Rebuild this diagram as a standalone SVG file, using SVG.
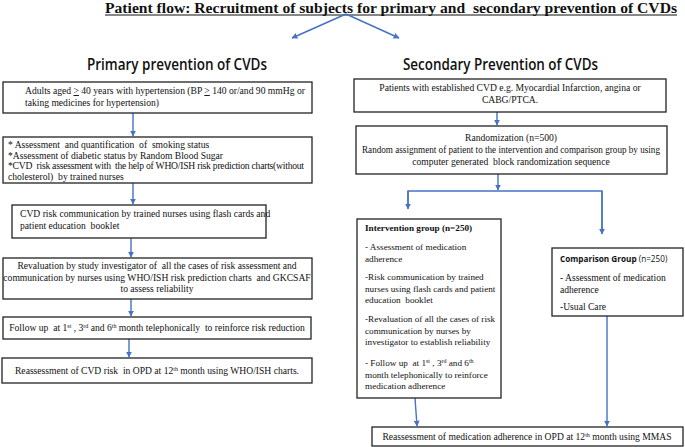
<svg xmlns="http://www.w3.org/2000/svg" width="685" height="447" viewBox="0 0 685 447">
<defs>
<marker id="ah" viewBox="0 0 10 10" refX="9" refY="5" markerWidth="6" markerHeight="6" markerUnits="userSpaceOnUse" orient="auto">
<path d="M0,0 L10,5 L0,10 z" fill="#4472C4"/>
</marker>
<style>
text{white-space:pre}
.box{fill:#fff;stroke:#222;stroke-width:1.3}
.t{font-family:"Liberation Serif","Times New Roman",serif;font-size:9.6px;fill:#111}
.c{text-anchor:middle}
.iv{font-size:9.2px}
.h{font-family:"Open Sans","Noto Sans",sans-serif;font-size:16px;font-weight:600;fill:#111}
.ttl{font-family:"Liberation Serif","Times New Roman",serif;font-size:14.5px;font-weight:bold;fill:#111}
.b{font-weight:bold}
.s{font-family:"Open Sans","Noto Sans",sans-serif;font-size:8.2px}
.conn{fill:none;stroke:#4472C4;stroke-width:1.4}
.arr{marker-end:url(#ah)}
</style>
</defs>
<rect width="685" height="447" fill="#fff"/>

<g id="title">
<text class="ttl" x="105" y="13" textLength="572" lengthAdjust="spacingAndGlyphs">Patient flow: Recruitment of subjects for primary and  secondary prevention of CVDs</text>
<line x1="105" y1="15" x2="677" y2="15" stroke="#111" stroke-width="1"/>
</g>

<g id="headings">
<text class="h" x="87" y="70" textLength="180" lengthAdjust="spacingAndGlyphs">Primary prevention of CVDs</text>
<text class="h" x="403" y="70" textLength="195" lengthAdjust="spacingAndGlyphs">Secondary Prevention of CVDs</text>
</g>

<g id="connectors">
<line class="conn arr" x1="346" y1="14" x2="292" y2="38"/>
<line class="conn arr" x1="346" y1="14" x2="399" y2="38"/>
<line class="conn arr" x1="133" y1="113" x2="133" y2="136"/>
<line class="conn arr" x1="133" y1="183" x2="133" y2="204"/>
<line class="conn arr" x1="131" y1="238" x2="131" y2="257"/>
<line class="conn arr" x1="131" y1="299" x2="131" y2="316"/>
<line class="conn arr" x1="129" y1="339" x2="129" y2="357"/>
<line class="conn arr" x1="497" y1="112" x2="497" y2="125"/>
<line class="conn arr" x1="498" y1="174" x2="498" y2="190"/>
<polyline class="conn" points="408,208 408,191 602,191 602,233"/>
<line class="conn arr" x1="408" y1="191" x2="408" y2="209"/>
<line class="conn arr" x1="602" y1="191" x2="602" y2="234"/>
<line class="conn arr" x1="415" y1="398" x2="417" y2="426"/>
<line class="conn arr" x1="607" y1="316" x2="607" y2="426"/>
</g>

<g id="p1">
<rect class="box" x="3" y="82" width="309" height="31"/>
<text class="t" x="25" y="94">Adults aged <tspan text-decoration="underline">&gt;</tspan> 40 years with hypertension (BP <tspan text-decoration="underline">&gt;</tspan> 140 or/and 90 mmHg or</text>
<text class="t" x="25" y="106">taking medicines for hypertension)</text>
</g>

<g id="p2">
<rect class="box" x="3" y="137" width="309" height="46"/>
<text class="t" x="8" y="148">* Assessment  and quantification  of  smoking status</text>
<text class="t" x="8" y="158.5">*Assessment of diabetic status by Random Blood Sugar</text>
<text class="t" x="8" y="169" textLength="296" lengthAdjust="spacing">*CVD  risk assessment with  the help of WHO/ISH risk prediction charts(without</text>
<text class="t" x="8" y="179.5">cholesterol)  by trained nurses</text>
</g>

<g id="p3">
<rect class="box" x="12" y="205" width="254" height="33"/>
<text class="t" x="20" y="217">CVD risk communication by trained nurses using flash cards and</text>
<text class="t" x="20" y="229">patient education  booklet</text>
</g>

<g id="p4">
<rect class="box" x="3" y="258" width="309" height="41"/>
<text class="t c" x="157" y="269">Revaluation by study investigator of  all the cases of risk assessment and</text>
<text class="t c" x="157" y="280.5">communication by nurses using WHO/ISH risk prediction charts  and GKCSAF</text>
<text class="t c" x="157" y="292">to assess reliability</text>
</g>

<g id="p5">
<rect class="box" x="3" y="317" width="308" height="22"/>
<text class="t c" x="157" y="331">Follow up  at 1<tspan font-size="6" dy="-3.5">st</tspan><tspan dy="3.5"> , 3</tspan><tspan font-size="6" dy="-3.5">rd</tspan><tspan dy="3.5"> and 6</tspan><tspan font-size="6" dy="-3.5">th</tspan><tspan dy="3.5"> month telephonically  to reinforce risk reduction</tspan></text>
</g>

<g id="p6">
<rect class="box" x="2" y="358" width="310" height="25"/>
<text class="t c" x="157" y="374">Reassessment of CVD risk  in OPD at 12<tspan font-size="6" dy="-3.5">th</tspan><tspan dy="3.5"> month using WHO/ISH charts.</tspan></text>
</g>

<g id="s1">
<rect class="box" x="354" y="79" width="312" height="33"/>
<text class="t c" x="510" y="91">Patients with established CVD e.g. Myocardial Infarction, angina or</text>
<text class="t c" x="510" y="103">CABG/PTCA.</text>
</g>

<g id="s2">
<rect class="box" x="356" y="126" width="311" height="48"/>
<text class="t c" x="511" y="141">Randomization (n=500)</text>
<text class="t c" x="511" y="153" textLength="298" lengthAdjust="spacingAndGlyphs">Random assignment of patient to the intervention and comparison group by using</text>
<text class="t c" x="511" y="165">computer generated  block randomization sequence</text>
</g>

<g id="intervention">
<rect class="box" x="357" y="219" width="144" height="179"/>
<text class="t iv b" x="365" y="231">Intervention group (n=250)</text>
<text class="t iv" x="365" y="250">- Assessment of medication</text>
<text class="t iv" x="365" y="261.5">adherence</text>
<text class="t iv" x="365" y="280">-Risk communication by trained</text>
<text class="t iv" x="365" y="291.5">nurses using flash cards and patient</text>
<text class="t iv" x="365" y="303">education  booklet</text>
<text class="t iv" x="365" y="322">-Revaluation of all the cases of risk</text>
<text class="t iv" x="365" y="333.5">communication by nurses by</text>
<text class="t iv" x="365" y="345">investigator to establish reliability</text>
<text class="t iv" x="365" y="366">- Follow up  at 1<tspan font-size="6" dy="-3.5">st</tspan><tspan dy="3.5"> , 3</tspan><tspan font-size="6" dy="-3.5">rd</tspan><tspan dy="3.5"> and 6</tspan><tspan font-size="6" dy="-3.5">th</tspan></text>
<text class="t iv" x="365" y="377.5">month telephonically to reinforce</text>
<text class="t iv" x="365" y="389">medication adherence</text>
</g>

<g id="comparison">
<rect class="box" x="552" y="248" width="131" height="68"/>
<text class="t s" x="560" y="262"><tspan font-weight="bold">Comparison Group</tspan> (n=250)</text>
<text class="t" x="560" y="281">- Assessment of medication</text>
<text class="t" x="560" y="292.5">adherence</text>
<text class="t" x="560" y="310">-Usual Care</text>
</g>

<g id="final">
<rect class="box" x="372" y="427" width="311" height="19"/>
<text class="t c" x="527" y="440">Reassessment of medication adherence in OPD at 12<tspan font-size="6" dy="-3.5">th</tspan><tspan dy="3.5"> month using MMAS</tspan></text>
</g>
</svg>
